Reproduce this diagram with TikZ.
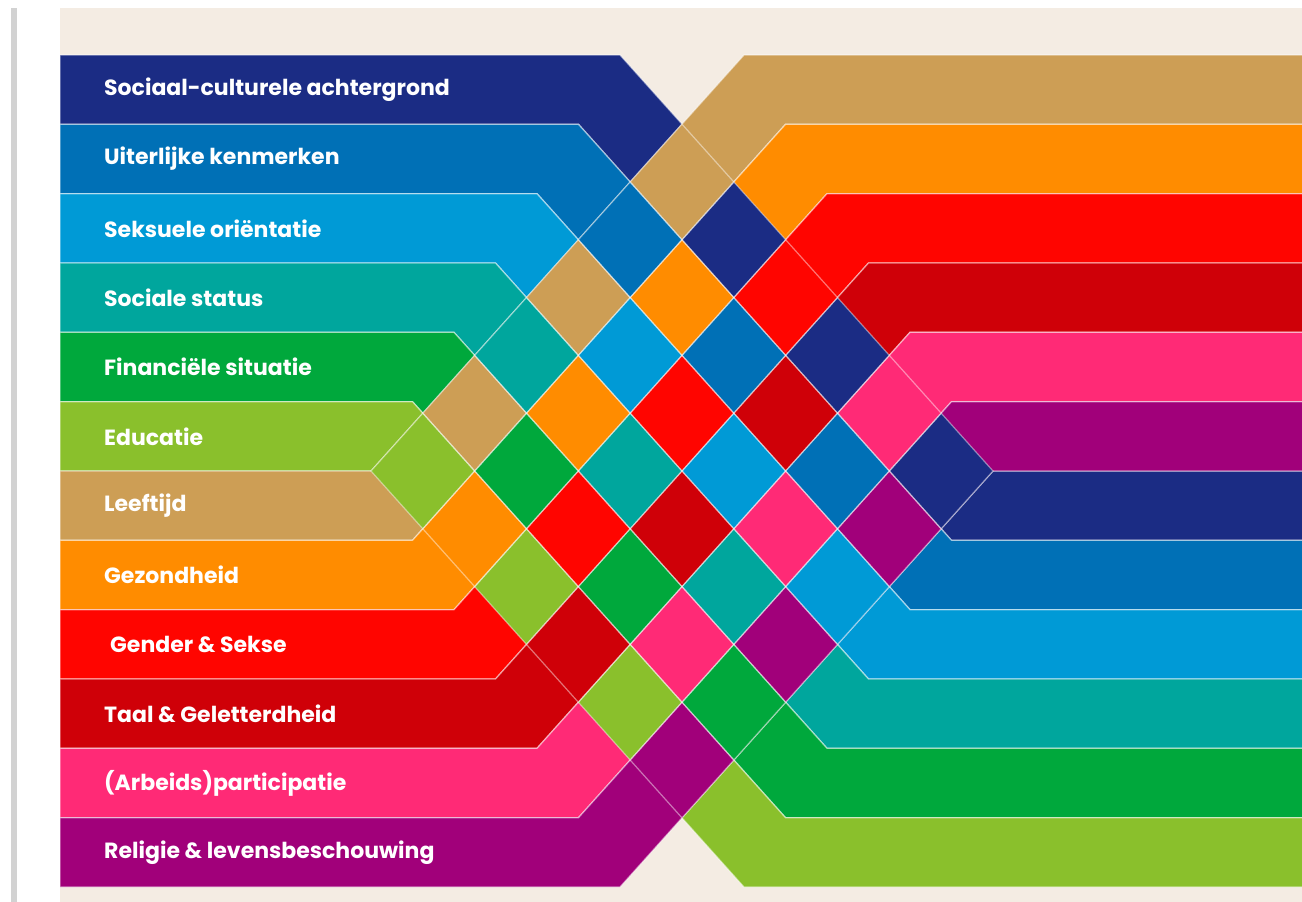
\documentclass[tikz,border=0pt]{standalone}
\usepackage{fontspec}
\newfontfamily\labfont{Poppins}
\definecolor{cream}{HTML}{F4ECE3}
\definecolor{bargray}{HTML}{D2D2D2}
\definecolor{band0}{HTML}{1B2C84}
\definecolor{band1}{HTML}{0070B6}
\definecolor{band2}{HTML}{009AD6}
\definecolor{band3}{HTML}{00A69D}
\definecolor{band4}{HTML}{00A83C}
\definecolor{band5}{HTML}{8AC02C}
\definecolor{band6}{HTML}{CD9E55}
\definecolor{band7}{HTML}{FF8C00}
\definecolor{band8}{HTML}{FF0500}
\definecolor{band9}{HTML}{CF0008}
\definecolor{band10}{HTML}{FF2A76}
\definecolor{band11}{HTML}{A1007A}
\def\bh{69.333}
\def\slp{1.1153}
\newcommand\isect[3]{%
  \pgfmathsetmacro\ix{(#2-#1)*\bh/(2*\slp)+620-20.75*(12+#1-#2)}%
  \pgfmathsetmacro\iy{55+#1*\bh+\slp*(\ix-620+41.5*#1)}%
  \coordinate (#3) at (\ix,\iy);}
\tikzset{
  bandedge/.style={draw=white, draw opacity=0.5, line width=1.3},
  diaedge/.style={draw=white, draw opacity=0.45, line width=1.2, line join=miter},
  lab/.style={text=white, anchor=west, inner sep=0, font=\labfont\bfseries\fontsize{22}{26}\selectfont}
}
\begin{document}
\begin{tikzpicture}[x=1pt,y=-1pt]
\useasboundingbox (0,0) rectangle (1302,902);
\fill[white] (0,0) rectangle (1302,902);
\fill[bargray] (11,8) rectangle (17,902);
\fill[cream] (60,8) rectangle (1302,902);
\pgfmathsetmacro\D{6*\bh/\slp}
% down-going bands
\foreach \i in {0,...,5}{
  \pgfmathsetmacro\yt{55+\i*\bh}
  \pgfmathsetmacro\yb{\yt+\bh}
  \pgfmathsetmacro\at{620-41.5*\i}
  \pgfmathsetmacro\ab{\at-41.5}
  \path[fill=band\i, bandedge] (60,\yt) -- (\at,\yt) -- (\at+\D,\yt+6*\bh) -- (1310,\yt+6*\bh)
     -- (1310,\yb+6*\bh) -- (\ab+\D,\yb+6*\bh) -- (\ab,\yb) -- (60,\yb) -- cycle;
}
% up-going bands
\foreach \j in {6,...,11}{
  \pgfmathsetmacro\yt{55+\j*\bh}
  \pgfmathsetmacro\yb{\yt+\bh}
  \pgfmathsetmacro\bt{620-41.5*(12-\j)}
  \pgfmathsetmacro\bb{\bt+41.5}
  \path[fill=band\j, bandedge] (60,\yt) -- (\bt,\yt) -- (\bt+\D,\yt-6*\bh) -- (1310,\yt-6*\bh)
     -- (1310,\yb-6*\bh) -- (\bb+\D,\yb-6*\bh) -- (\bb,\yb) -- (60,\yb) -- cycle;
}
% crossings
\foreach \i in {0,...,5}{
  \foreach \k in {0,...,5}{
    \pgfmathtruncatemacro\j{\k+6}
    \pgfmathtruncatemacro\ip{\i+1}
    \pgfmathtruncatemacro\jp{\j+1}
    \pgfmathtruncatemacro\parity{mod(\i+\k,2)}
    \ifnum\parity=1 \edef\topcol{band\i}\else\edef\topcol{band\j}\fi
    \isect{\i}{\j}{dT}\isect{\i}{\jp}{dR}\isect{\ip}{\jp}{dB}\isect{\ip}{\j}{dL}
    \fill[\topcol] (dT) -- (dR) -- (dB) -- (dL) -- cycle;
  }
}
\foreach \i in {0,...,5}{
  \foreach \k in {0,...,5}{
    \pgfmathtruncatemacro\j{\k+6}
    \pgfmathtruncatemacro\ip{\i+1}
    \pgfmathtruncatemacro\jp{\j+1}
    \isect{\i}{\j}{dT}\isect{\i}{\jp}{dR}\isect{\ip}{\jp}{dB}\isect{\ip}{\j}{dL}
    \path[diaedge] (dT) -- (dR) -- (dB) -- (dL) -- cycle;
  }
}
% labels
\node[lab] (l0) at (104,89.7) {Sociaal-culturele achtergrond};
\node[lab] (l1) at (104,159.0) {Uiterlijke kenmerken};
\node[lab] (l2) at (104,228.3) {Seksuele oriëntatie};
\node[lab] (l3) at (104,297.7) {Sociale status};
\node[lab] (l4) at (104,367.0) {Financiële situatie};
\node[lab] (l5) at (104,436.3) {Educatie};
\node[lab] (l6) at (104,505.7) {Leeftijd};
\node[lab] (l7) at (104,575.0) {Gezondheid};
\node[lab] (l8) at (110,644.3) {Gender \& Sekse};
\node[lab] (l9) at (104,713.7) {Taal \& Geletterdheid};
\node[lab] (l10) at (104,783.0) {(Arbeids)participatie};
\node[lab] (l11) at (104,852.3) {Religie \& levensbeschouwing};
\end{tikzpicture}
\end{document}
